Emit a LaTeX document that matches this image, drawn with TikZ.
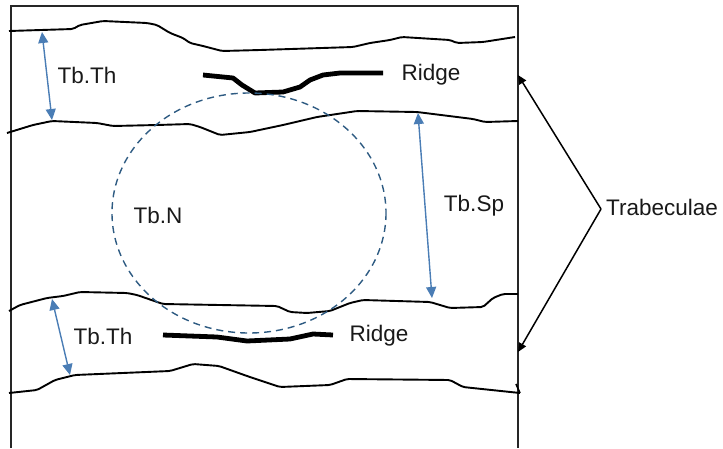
\documentclass[tikz,border=0pt]{standalone}
\usepackage{fontspec}
\setmainfont{Liberation Sans}
\usetikzlibrary{arrows.meta}
\definecolor{dimblue}{HTML}{4A7DB5}
\definecolor{circblue}{HTML}{2E5B82}
\tikzset{
  lbl/.style={font=\fontsize{22.5}{26}\selectfont, inner sep=0pt, text=black!90},
  bone/.style={draw=black, line width=1.9pt, line join=round, rounded corners=2pt},
  ridge/.style={draw=black, line width=4.8pt, line join=round},
  dim/.style={draw=dimblue, line width=1.4pt, {Triangle[length=11pt,width=10pt]}-{Triangle[length=11pt,width=10pt]}},
  ptr/.style={draw=black, line width=1.5pt, -{Triangle[length=9pt,width=8pt]}},
  frame/.style={draw=black!85, line width=1.2pt}
}
\begin{document}
\begin{tikzpicture}[x=1pt,y=-1pt]
\useasboundingbox (0,0) rectangle (723,448);
% frame
\draw[frame] (11,448) -- (11,6) -- (518,6) -- (518,448);
% top trabecula
\draw[bone] (9,31) -- (73,29) -- (80,25) -- (103,21) -- (147,23) -- (157,25) -- (170,33) -- (183,38) -- (190,43) -- (203,46) -- (222,51) -- (260,50) -- (353,47) -- (370,43) -- (390,40) -- (402,37) -- (450,40) -- (457,43) -- (483,42) -- (515,37);
\draw[bone] (7,133) -- (33,125) -- (52,121) -- (97,123) -- (113,126) -- (157,125) -- (190,124) -- (200,127) -- (220,135) -- (250,132) -- (283,125) -- (317,117) -- (357,111) -- (417,112) -- (473,119) -- (485,122) -- (518,121);
% bottom trabecula
\draw[bone] (9,311) -- (20,305) -- (47,298) -- (63,296) -- (80,292) -- (127,293) -- (137,295) -- (163,304) -- (277,306) -- (290,312) -- (307,313) -- (330,311) -- (350,303) -- (363,300) -- (430,302) -- (450,308) -- (483,307) -- (493,298) -- (503,294) -- (518,294);
\draw[bone] (9,393) -- (37,390) -- (55,380) -- (75,375) -- (170,371) -- (193,364) -- (219,366) -- (247,376) -- (280,387) -- (330,385) -- (347,379) -- (450,380) -- (463,387) -- (520,393);
\draw[draw=black, line width=1.6pt] (520,393) -- (516,384);
% ridges
\draw[ridge] (203,75) -- (233,78) -- (242,85) -- (255,93) -- (283,92) -- (300,87) -- (310,80) -- (323,75) -- (340,73) -- (383,73);
\draw[ridge] (163,335) -- (217,337) -- (247,341) -- (290,339) -- (313,334) -- (333,335);
% circle
\draw[draw=circblue, line width=1.4pt, dash pattern=on 7pt off 5pt] (249,213) ellipse[x radius=137, y radius=120];
% labels
\node[lbl] (thtop) at (87,75) {Tb.Th};
\node[lbl] (ridgetop) at (431,75) {Ridge};
\node[lbl] (tbnl) at (158,215) {Tb.N};
\node[lbl] (tbsp) at (474,206) {Tb.Sp};
\node[lbl, anchor=west] (trab) at (606,207) {Trabeculae};
\node[lbl] (thbot) at (103,336) {Tb.Th};
\node[lbl] (ridgebot) at (379,336) {Ridge};
% dimension coordinates
\coordinate (a1) at (42,32);
\coordinate (a2) at (52,120);
\coordinate (b1) at (418,113);
\coordinate (b2) at (432,298);
\coordinate (c1) at (52,299);
\coordinate (c2) at (70,375);
\draw[dim] (a1) -- (a2);
\draw[dim] (b1) -- (b2);
\draw[dim] (c1) -- (c2);
% trabeculae pointers
\coordinate (tv) at (601,209);
\coordinate (tt) at (518,75);
\coordinate (tb) at (518,352);
\draw[ptr] (tv) -- (tt);
\draw[ptr] (tv) -- (tb);
\end{tikzpicture}
\end{document}
